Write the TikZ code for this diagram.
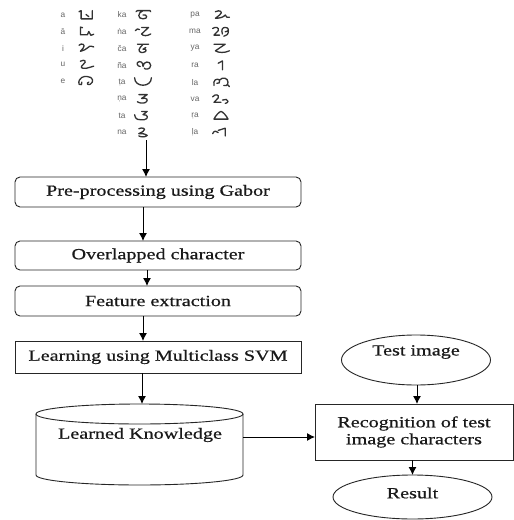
\documentclass[tikz,border=0pt]{standalone}
\usepackage{fontspec}
\setmainfont{Liberation Serif}[FakeStretch=1.3,FakeBold=0.6]
\newfontfamily\lblfont{Liberation Sans}
\usetikzlibrary{arrows.meta,shapes.geometric}
\begin{document}
\begin{tikzpicture}[x=1pt,y=-1pt,
  every node/.style={inner sep=0pt,outer sep=0pt},
  txt/.style={font=\fontsize{15.5}{18}\selectfont, text=black!90},
  rbox/.style={draw=black!85, line width=0.9pt, rounded corners=5pt, minimum width=286pt, txt},
  sbox/.style={draw=black!85, line width=0.9pt, txt},
  ell/.style={draw=black!85, line width=0.9pt, ellipse},
  arr/.style={draw=black, line width=1pt, -{Latex[length=8pt,width=8pt]}},
  lbl/.style={font=\lblfont\fontsize{8.3}{9}\selectfont, text=black!60},
  glyph/.style={draw=black!80, line width=1.3pt, line cap=round, line join=round, x=1.4pt, y=1.1pt}
]
\useasboundingbox (0,0) rectangle (514,520);
\fill[white] (0,0) rectangle (514,520);

% ---- script table: labels ----
\foreach \t [count=\i] in {a,ā,i,u,e}
  \node[lbl] (la\i) at (63,{15+16.5*(\i-1)}) {\t};
\foreach \t [count=\i] in {ka,ṅa,ča,ña,ṭa,ṇa,ta,na}
  \node[lbl] (lb\i) at (122,{15+16.8*(\i-1)}) {\t};
\foreach \t [count=\i] in {pa,ma,ya,ra,la,va,ṛa,ḷa}
  \node[lbl] (lc\i) at (195,{15+16.8*(\i-1)}) {\t};

% ---- script table: glyphs (left column) ----
\begin{scope}[shift={(86,15)}]
 \draw[glyph] (-5,3) -- (-3.5,4) -- (-3.5,-3.5) -- (4.5,-3.5) -- (4.5,4) (0,0.5) -- (2,-1.5);
\end{scope}
\begin{scope}[shift={(86,31.5)}]
 \draw[glyph] (-2.5,3.5) -- (-4,4) -- (-4,-3) -- (1,-3) -- (2,0) -- (3.5,-3.5) -- (5.5,-2.5);
\end{scope}
\begin{scope}[shift={(86,48)}]
 \draw[glyph] (-5,2.5) .. controls (-3,5) and (0,3) .. (-2,0) .. controls (-3,-1.5) and (-4,-3) .. (-4,-3) .. controls (-1,-2) and (0,-1) .. (1,0) .. controls (2,2) and (3,2) .. (5.5,1);
\end{scope}
\begin{scope}[shift={(86,64.5)}]
 \draw[glyph] (-4,3) .. controls (-1,5) and (1,3) .. (-2,0) .. controls (-4,-2) and (-4,-4) .. (0,-3.5) .. controls (2,-3) and (4,-2) .. (5.5,-1.5);
\end{scope}
\begin{scope}[shift={(86,81)}]
 \draw[glyph] (-5,-3) .. controls (-6,3) and (-1,5) .. (1,4) .. controls (5,4) and (6,-1) .. (3,-3) .. controls (1,-4) and (0,-2) .. (2,-1)
   (-5,-3) .. controls (-4,-4.5) and (-2,-3) .. (-3,-1);
\end{scope}

% ---- middle column ----
\begin{scope}[shift={(143,15)}]
 \draw[glyph] (-5,3) -- (-4,4) -- (5,4) -- (5.5,3) (0,4) .. controls (-4,2) and (-4,-3.5) .. (0,-3.5) .. controls (4,-3.5) and (3,1) .. (0,0);
\end{scope}
\begin{scope}[shift={(143,31.8)}]
 \draw[glyph] (-5.5,1) .. controls (-4.5,3) and (-3.5,3) .. (-2.5,2) (-1,4) -- (4,4) -- (-1,-2) .. controls (0,-4) and (3,-4) .. (5.5,-2);
\end{scope}
\begin{scope}[shift={(143,48.6)}]
 \draw[glyph] (-4,4) -- (4,4) (0,4) -- (-2,1) .. controls (-4,-2) and (-2,-4) .. (0,-3.5) .. controls (3,-3) and (3,0) .. (0,-0.5) -- (2,1);
\end{scope}
\begin{scope}[shift={(143,65.4)}]
 \draw[glyph] (-2,-1) .. controls (-4,-1) and (-5.5,3) .. (-2.5,3.5) .. controls (0,3.5) and (0,0) .. (0,-1) .. controls (0,4) and (5.5,4.5) .. (5.5,0) .. controls (5.5,-4) and (1,-4) .. (1,-2.5);
\end{scope}
\begin{scope}[shift={(143,82.2)}]
 \draw[glyph] (-6,4) .. controls (-6,-5) and (6,-5) .. (6,4);
\end{scope}
\begin{scope}[shift={(143,99)}]
 \draw[glyph] (-3,4) -- (3,4) -- (-1,0.5) .. controls (3,1.5) and (4,-1) .. (2,-3) .. controls (0,-4.5) and (-3,-3.5) .. (-4,-2.5);
\end{scope}
\begin{scope}[shift={(143,115.8)}]
 \draw[glyph] (-6,1) .. controls (-5.5,-2.5) and (-4.5,-3.5) .. (-2,-3.5) -- (1,-3.5) .. controls (4,-3) and (4,1.5) .. (0,1) -- (3,4) -- (-1,4);
\end{scope}
\begin{scope}[shift={(143,132.6)}]
 \draw[glyph] (-3,3.5) .. controls (-1,5) and (3,4) .. (0,1) -- (-3,-1) .. controls (0,-1) and (2,-1) .. (3,-2.5) .. controls (2,-4.5) and (-2,-4) .. (-3,-3);
\end{scope}

% ---- right column ----
\begin{scope}[shift={(221,15)}]
 \draw[glyph] (-4,3) .. controls (-1,5) and (2,3) .. (-1,0) -- (-4,-3) .. controls (-1,-3) and (2,-2) .. (3,0) .. controls (4,-2) and (4.5,-3) .. (6,-2);
\end{scope}
\begin{scope}[shift={(221,31.8)}]
 \draw[glyph] (-6,3) .. controls (-4,5) and (-1,4) .. (-2,1) -- (-5,-3) -- (-1,-3)
   (1,-2) .. controls (0,2) and (1,4) .. (3,4) .. controls (6,4) and (6,0) .. (3,0) (5.3,1) .. controls (5.3,-2) and (4,-4) .. (2,-4);
\end{scope}
\begin{scope}[shift={(221,48.6)}]
 \draw[glyph] (-5,4) -- (3,4) -- (-4,-2) .. controls (-2,-4) and (3,-4) .. (6,-2);
\end{scope}
\begin{scope}[shift={(221,65.4)}]
 \draw[glyph] (-2,2) -- (1,4) -- (1,-4);
\end{scope}
\begin{scope}[shift={(221,82.2)}]
 \draw[glyph] (-5,-3) .. controls (-6,2) and (-3,4) .. (-1,2) .. controls (0,0) and (-2,-2) .. (-3,-1)
   (-1,2) .. controls (1,5) and (5,4) .. (5,0) .. controls (5,-3) and (3,-4) .. (2,-3) (5,-2.5) -- (6,-4);
\end{scope}
\begin{scope}[shift={(221,99)}]
 \draw[glyph] (-6,2) .. controls (-4,5) and (-1,4) .. (-2,1) -- (-5,-3) -- (0,-3)
   (1,-1) .. controls (3,0) and (5,0) .. (5,-2) .. controls (5,-3) and (4,-4) .. (3,-4);
\end{scope}
\begin{scope}[shift={(221,115.8)}]
 \draw[glyph] (-5,-3) -- (5,-3) .. controls (4,0) and (1,4) .. (0,4) .. controls (-1,4) and (-4,0) .. cycle;
\end{scope}
\begin{scope}[shift={(221,132.6)}]
 \draw[glyph] (-6,-1) .. controls (-5,2) and (-3,2) .. (-2,0) (-2,2) -- (3,4) -- (3,-3);
\end{scope}

\coordinate (gl) at (146,140);

% ---- left chain ----
\node[rbox, minimum height=30pt] (b1) at (158,192) {Pre-processing using Gabor};
\node[rbox, minimum height=29pt] (b2) at (158,255.5) {Overlapped character};
\node[rbox, minimum height=30pt] (b3) at (158,301) {Feature extraction};
\node[sbox, minimum width=286pt, minimum height=32pt] (b4) at (158,357) {Learning using Multiclass SVM};

% cylinder
\draw[black!85, line width=0.9pt] (36,414) -- (36,475) arc[start angle=180, end angle=360, x radius=103.5pt, y radius=10pt] -- (243,414);
\draw[black!85, line width=0.9pt] (139.5,414) ellipse [x radius=103.5pt, y radius=10pt];
\node[txt] (lk) at (140,435) {Learned Knowledge};
\coordinate (cylr) at (243,437);
\coordinate (cylt) at (142,404);

% ---- right chain ----
\node[ell, minimum width=149pt, minimum height=50pt] (ti) at (416,360) {};
\node[txt] (til) at (416,352) {Test image};
\node[sbox, minimum width=198pt, minimum height=56pt, align=center] (rec) at (414,432) {Recognition of test\\[-1pt]image characters};
\node[ell, minimum width=159pt, minimum height=44pt] (res) at (412.5,497) {};
\node[txt] (resl) at (412.5,493) {Result};

% ---- connectors ----
\draw[arr] (gl) -- (b1.north -| gl);
\draw[arr] ([xshift=-15pt]b1.south) -- ([xshift=-15pt]b2.north);
\draw[arr] ([xshift=-11pt]b2.south) -- ([xshift=-11pt]b3.north);
\draw[arr] ([xshift=-15pt]b3.south) -- ([xshift=-15pt]b4.north);
\draw[arr] (b4.south -| cylt) -- (cylt);
\draw[arr] (cylr) -- (rec.west |- cylr);
\draw[arr] ([xshift=1pt]ti.south) -- ([xshift=1pt]rec.north -| ti.south);
\draw[arr] (rec.south -| res.north) -- (res.north);
\end{tikzpicture}
\end{document}
